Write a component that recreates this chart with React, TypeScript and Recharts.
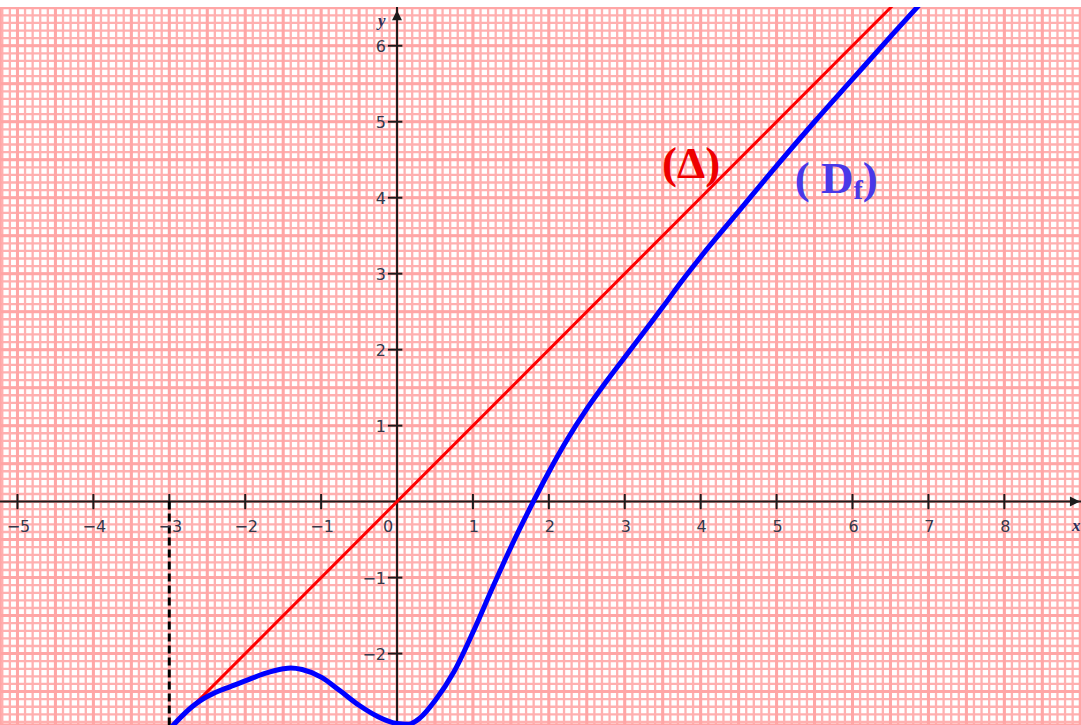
import {
  CartesianGrid,
  ComposedChart,
  Line,
  ReferenceDot,
  ReferenceLine,
  XAxis,
  YAxis,
} from "recharts";

const X_DOMAIN: [number, number] = [-5.23, 9.01];
const Y_DOMAIN: [number, number] = [-2.94, 6.51];

const xTicks = [-5, -4, -3, -2, -1, 0, 1, 2, 3, 4, 5, 6, 7, 8];
const yTicks = [-2, -1, 1, 2, 3, 4, 5, 6];

// curve (Df)
const curveX = [
  -3, -2.9, -2.8, -2.7, -2.6, -2.5, -2.4, -2.25, -2, -1.75, -1.5, -1.4, -1.25, -1, -0.75, -0.5,
  -0.25, 0, 0.15, 0.3, 0.5, 0.75, 1, 1.25, 1.5, 1.75, 2, 2.25, 2.5, 2.75, 3, 3.25, 3.5, 3.75, 4,
  4.5, 5, 5.5, 6, 6.5, 7,
];
const curveY = [
  -3, -2.89, -2.79, -2.7, -2.625, -2.565, -2.515, -2.455, -2.36, -2.265, -2.2, -2.19, -2.21, -2.31,
  -2.49, -2.68, -2.83, -2.92, -2.93, -2.85, -2.62, -2.24, -1.72, -1.15, -0.6, -0.09, 0.39, 0.83,
  1.22, 1.57, 1.9, 2.23, 2.56, 2.9, 3.22, 3.82, 4.42, 5.0, 5.56, 6.12, 6.67,
];

// asymptote (Δ): y = x
const deltaX = [-3, 7];
const deltaY = [-3, 7];

const curveData = curveX.map((x, i) => ({ x, y: curveY[i] }));
const deltaData = deltaX.map((x, i) => ({ x, y: deltaY[i] }));

// graph paper steps
function steps(from: number, to: number, step: number): number[] {
  const out: number[] = [];
  const n = Math.round((to - from) / step);
  for (let i = 0; i <= n; i++) out.push(Math.round((from + i * step) * 100) / 100);
  return out;
}
const minorX = steps(-5.2, 9.0, 0.1);
const minorY = steps(-2.9, 6.5, 0.1);
const majorX = steps(-5, 9, 0.5);
const majorY = steps(-2.5, 6.5, 0.5);

const AXIS = "#1c1c1c";
const TICK_TEXT = "#33384a";

const tickFont = { fontFamily: "DejaVu Sans", fontSize: 16, fill: TICK_TEXT };

const fmt = (v: number) => (v < 0 ? `\u2212${Math.abs(v)}` : String(v));

export default function App() {
  return (
    <div style={{ position: "absolute", left: 0, top: 7, width: 1081, height: 718, background: "#fff" }}>
      <ComposedChart width={1081} height={718} margin={{ top: 0, right: 0, bottom: 0, left: 0 }}>
        <XAxis xAxisId="minor" type="number" dataKey="x" domain={X_DOMAIN} ticks={minorX} interval={0} allowDataOverflow hide />
        <YAxis yAxisId="minor" type="number" domain={Y_DOMAIN} ticks={minorY} interval={0} allowDataOverflow hide />
        <XAxis xAxisId="major" type="number" dataKey="x" domain={X_DOMAIN} ticks={majorX} interval={0} allowDataOverflow hide />
        <YAxis yAxisId="major" type="number" domain={Y_DOMAIN} ticks={majorY} interval={0} allowDataOverflow hide />
        <XAxis type="number" dataKey="x" domain={X_DOMAIN} allowDataOverflow hide />
        <YAxis type="number" domain={Y_DOMAIN} allowDataOverflow hide />

        <CartesianGrid xAxisId="minor" yAxisId="minor" stroke="#ffb0b0" strokeWidth={2.3} />
        <CartesianGrid xAxisId="major" yAxisId="major" stroke="#ffa6a6" strokeWidth={3} />

        {/* axes through the origin */}
        <ReferenceLine y={0} stroke={AXIS} strokeWidth={2} />
        <ReferenceLine x={0} stroke={AXIS} strokeWidth={2} />
        {xTicks
          .filter((t) => t !== 0)
          .map((t) => (
            <ReferenceLine
              key={`xt${t}`}
              segment={[{ x: t, y: -0.1 }, { x: t, y: 0.1 }]}
              stroke={AXIS}
              strokeWidth={2}
            />
          ))}
        {yTicks.map((t) => (
          <ReferenceLine
            key={`yt${t}`}
            segment={[{ x: -0.12, y: t }, { x: 0.07, y: t }]}
            stroke={AXIS}
            strokeWidth={2}
          />
        ))}
        {xTicks.map((t) => (
          <ReferenceDot
            key={`xl${t}`}
            x={t}
            y={0}
            r={0}
            shape={(p: any) => (
              <text x={p.cx + (t === 0 ? -9 : 1)} y={p.cy + 30} textAnchor="middle" {...tickFont}>
                {fmt(t)}
              </text>
            )}
          />
        ))}
        {yTicks.map((t) => (
          <ReferenceDot
            key={`yl${t}`}
            x={0}
            y={t}
            r={0}
            shape={(p: any) => (
              <text x={p.cx - 11} y={p.cy + 6} textAnchor="end" {...tickFont}>
                {fmt(t)}
              </text>
            )}
          />
        ))}

        {/* arrows and axis names */}
        <ReferenceDot
          x={8.97}
          y={0}
          r={0}
          shape={(p: any) => (
            <g>
              <path d={`M${p.cx - 8},${p.cy - 5} L${p.cx + 2},${p.cy} L${p.cx - 8},${p.cy + 5} Z`} fill={AXIS} />
              <text x={p.cx - 6} y={p.cy + 29} fontFamily="Liberation Serif" fontStyle="italic" fontWeight="bold" fontSize={17} fill="#2b2f5a">
                x
              </text>
            </g>
          )}
        />
        <ReferenceDot
          x={0}
          y={6.44}
          r={0}
          shape={(p: any) => (
            <g>
              <path d={`M${p.cx - 5},${p.cy + 8} L${p.cx},${p.cy - 2} L${p.cx + 5},${p.cy + 8} Z`} fill={AXIS} />
              <text x={p.cx - 19} y={p.cy + 14} fontFamily="Liberation Serif" fontStyle="italic" fontWeight="bold" fontSize={17} fill="#2b2f5a">
                y
              </text>
            </g>
          )}
        />

        {/* dashed guide at x = -3 */}
        <ReferenceLine
          segment={[{ x: -3, y: 0 }, { x: -3, y: -3 }]}
          stroke="#000"
          strokeWidth={3}
          strokeDasharray="8 4"
          ifOverflow="visible"
        />

        <Line
          data={deltaData}
          dataKey="y"
          type="linear"
          stroke="#ff0000"
          strokeWidth={3}
          dot={false}
          activeDot={false}
          isAnimationActive={false}
        />
        <Line
          data={curveData}
          dataKey="y"
          type="monotone"
          stroke="#0000ff"
          strokeWidth={5}
          dot={false}
          activeDot={false}
          isAnimationActive={false}
        />

        {/* curve names */}
        <ReferenceDot
          x={3.49}
          y={4.26}
          r={0}
          shape={(p: any) => (
            <text x={p.cx} y={p.cy} fontFamily="Liberation Serif" fontWeight="bold" fontSize={45} fill="#ee0000">
              (Δ)
            </text>
          )}
        />
        <ReferenceDot
          x={5.24}
          y={4.06}
          r={0}
          shape={(p: any) => (
            <text x={p.cx} y={p.cy} fontFamily="Liberation Serif" fontWeight="bold" fontSize={45} fill="#4a38e8">
              {"( D"}
              <tspan fontSize={28} dy={6}>f</tspan>
              <tspan dy={-6}>)</tspan>
            </text>
          )}
        />
      </ComposedChart>
    </div>
  );
}
